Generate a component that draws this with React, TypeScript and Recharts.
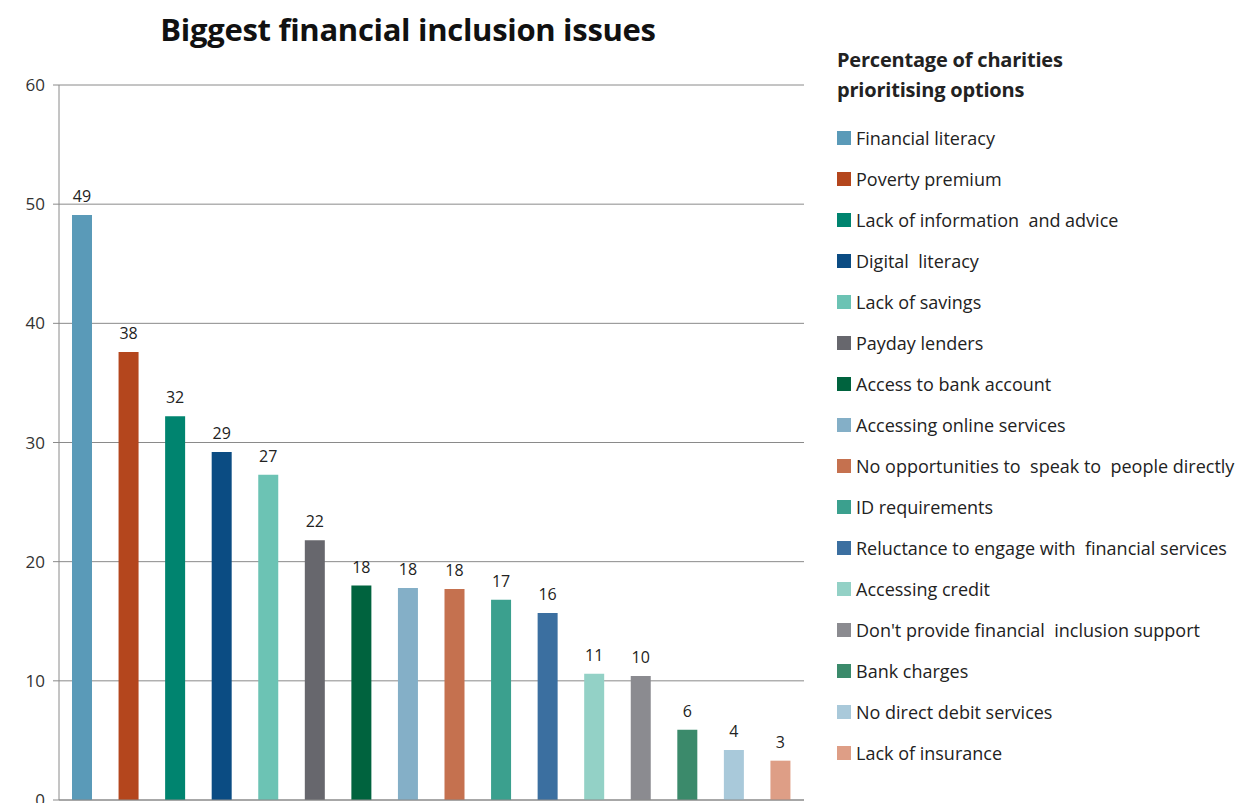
import React from "react";
import { BarChart, Bar, XAxis, YAxis, CartesianGrid, Cell, LabelList } from "recharts";

const issues = [
  "Financial literacy",
  "Poverty premium",
  "Lack of information  and advice",
  "Digital  literacy",
  "Lack of savings",
  "Payday lenders",
  "Access to bank account",
  "Accessing online services",
  "No opportunities to  speak to  people directly",
  "ID requirements",
  "Reluctance to engage with  financial services",
  "Accessing credit",
  "Don't provide financial  inclusion support",
  "Bank charges",
  "No direct debit services",
  "Lack of insurance",
];

const percentages = [49.1, 37.6, 32.2, 29.2, 27.3, 21.8, 18.0, 17.8, 17.7, 16.8, 15.7, 10.6, 10.4, 5.9, 4.2, 3.3];

const colors = [
  "#5a9ab8",
  "#b4461d",
  "#00846f",
  "#0b4c83",
  "#6cc3b4",
  "#67676d",
  "#00633e",
  "#84afc7",
  "#c5714f",
  "#3ba08e",
  "#3b6fa0",
  "#93d1c6",
  "#8b8b90",
  "#3b8a6b",
  "#a9c9da",
  "#de9e86",
];

const yTicks = [0, 10, 20, 30, 40, 50, 60];

const data = issues.map((name, i) => ({ name, value: percentages[i] }));

const font = "'Open Sans', 'Noto Sans', sans-serif";

export default function App() {
  return (
    <div style={{ position: "absolute", left: 0, top: 0, width: 1254, height: 803, background: "#fff", fontFamily: font, overflow: "hidden" }}>
      <div
        style={{
          position: "absolute",
          left: 0,
          width: 816,
          top: 8,
          textAlign: "center",
          fontSize: 31,
          fontWeight: 700,
          color: "#111",
          letterSpacing: -0.3,
        }}
      >
        Biggest financial inclusion issues
      </div>

      <BarChart
        width={810}
        height={812}
        data={data}
        margin={{ top: 85, right: 6, left: 0, bottom: 10 }}
        barSize={20}
      >
        <CartesianGrid vertical={false} stroke="#8a8a8a" />
        <XAxis dataKey="name" tick={false} tickLine={false} height={2} axisLine={{ stroke: "#8a8a8a" }} />
        <YAxis
          width={59}
          domain={[0, 60]}
          ticks={yTicks}
          tickSize={6}
          tickMargin={8}
          tickLine={{ stroke: "#8a8a8a" }}
          axisLine={{ stroke: "#8a8a8a" }}
          tick={{ fill: "#333", fontSize: 17, fontFamily: font }}
        />
        <Bar dataKey="value" isAnimationActive={false}>
          {data.map((d, i) => (
            <Cell key={d.name} fill={colors[i]} />
          ))}
          <LabelList
            dataKey="value"
            position="top"
            offset={13}
            formatter={(v: number) => Math.round(v)}
            style={{ fill: "#222", fontSize: 16, fontFamily: font }}
          />
        </Bar>
      </BarChart>

      <div style={{ position: "absolute", left: 837, top: 45, color: "#222" }}>
        <div style={{ fontSize: 20, fontWeight: 700, lineHeight: "30px", letterSpacing: -0.2 }}>
          Percentage of charities
          <br />
          prioritising options
        </div>
        <div style={{ marginTop: 12 }}>
          {issues.map((name, i) => (
            <div key={name} style={{ display: "flex", alignItems: "center", height: 41, fontSize: 18, whiteSpace: "pre" }}>
              <span style={{ width: 14, height: 14, background: colors[i], marginRight: 5, display: "inline-block" }} />
              {name}
            </div>
          ))}
        </div>
      </div>
    </div>
  );
}
